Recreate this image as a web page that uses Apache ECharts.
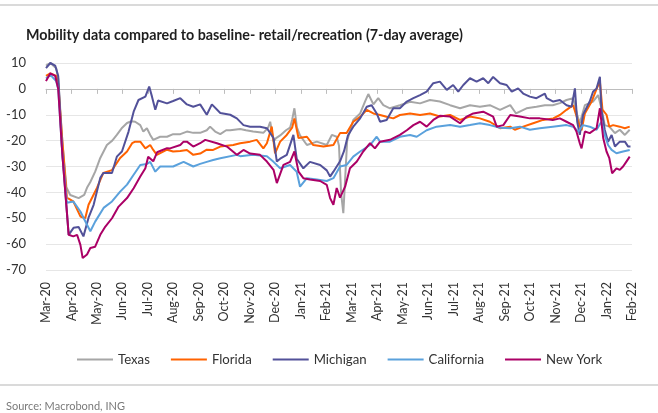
<!DOCTYPE html>
<html>
<head>
<meta charset="utf-8">
<script src="https://cdn.jsdelivr.net/npm/echarts@6/dist/echarts.min.js"></script>
<style>
html,body{margin:0;padding:0;background:#fff;}
#chart{width:658px;height:413px;}
</style>
</head>
<body>
<div id="chart"></div>
<script>
// x = months since 1 Mar 2020 (0 = Mar-20, 23 = Feb-22)
const monthLabels = ['Mar-20','Apr-20','May-20','Jun-20','Jul-20','Aug-20','Sep-20','Oct-20','Nov-20','Dec-20','Jan-21','Feb-21','Mar-21','Apr-21','May-21','Jun-21','Jul-21','Aug-21','Sep-21','Oct-21','Nov-21','Dec-21','Jan-22','Feb-22'];
const seriesNames = ['Texas','Florida','Michigan','California','New York'];
const seriesColors = ['#a6a6a6','#ff6200','#525199','#5aa1dc','#ab0066'];

const texas = [[0,9],[0.17,10],[0.40,8],[0.48,4],[0.64,-20],[0.80,-38],[0.95,-41],[1.28,-42.2],[1.50,-41],[1.62,-38],[1.74,-36],[1.93,-32],[2.13,-26.7],[2.39,-21.7],[2.60,-20],[2.78,-17.8],[2.99,-15],[3.18,-13.2],[3.35,-12.5],[3.50,-12.7],[3.70,-14],[3.82,-16.5],[3.96,-15.2],[4.09,-17.8],[4.21,-19.7],[4.48,-18.5],[4.75,-18.5],[4.99,-17.5],[5.27,-17.5],[5.53,-16.5],[5.78,-17],[6.05,-17],[6.31,-16],[6.44,-14.6],[6.64,-16.5],[6.84,-17.5],[7.07,-16],[7.23,-16],[7.62,-15.5],[7.85,-16],[8.13,-16.5],[8.53,-17],[8.72,-15],[8.80,-12.7],[8.93,-20.4],[9.03,-19],[9.19,-18],[9.42,-16],[9.58,-15],[9.66,-12],[9.75,-7.5],[9.85,-15],[9.97,-18],[10.24,-21.7],[10.63,-20.4],[11.02,-21.7],[11.22,-17.8],[11.41,-18.5],[11.50,-22],[11.58,-40],[11.67,-48],[11.74,-35],[11.82,-20],[12.06,-12],[12.33,-9.5],[12.52,-4.9],[12.65,-2],[12.85,-6],[13.04,-3.6],[13.24,-6.3],[13.50,-7.5],[13.89,-6.3],[14.29,-5],[14.68,-5.6],[15.07,-4.3],[15.46,-4.9],[15.86,-6.3],[16.25,-7.5],[16.64,-6.3],[17.03,-6.9],[17.42,-6.3],[17.82,-8.1],[18.22,-6.3],[18.45,-9.5],[18.86,-7.5],[19.25,-6.9],[19.58,-6.3],[19.89,-6.3],[20.17,-5.5],[20.43,-4.3],[20.69,-3.6],[20.85,-10],[20.95,-13.3],[21.15,-6.3],[21.47,-4.9],[21.67,-2.4],[21.80,-7.5],[21.93,-14],[22.11,-14.6],[22.33,-17.1],[22.52,-15.8],[22.72,-17.8],[22.91,-15.8]];

const florida = [[0,5],[0.17,6],[0.40,5],[0.48,2],[0.64,-20],[0.82,-42],[1.07,-43.5],[1.35,-49.3],[1.54,-50],[1.67,-44.8],[2.00,-38.3],[2.25,-32.5],[2.59,-31.4],[2.91,-26.7],[3.18,-24.2],[3.38,-21],[3.50,-20.4],[3.70,-20.4],[3.90,-23],[4.09,-21.7],[4.21,-23.6],[4.35,-25.5],[4.75,-23.5],[4.99,-24.2],[5.27,-24],[5.53,-23.6],[5.78,-25.5],[6.05,-25],[6.31,-23.5],[6.56,-23.6],[6.84,-22.3],[7.35,-21.7],[7.62,-21],[8.01,-20.4],[8.27,-19.7],[8.53,-23],[8.67,-21],[8.86,-14.6],[8.99,-24.9],[9.19,-20.4],[9.45,-17.8],[9.66,-15],[9.75,-11.4],[9.91,-19],[10.24,-18.5],[10.49,-21.7],[10.89,-22.3],[11.28,-21.7],[11.54,-17.1],[11.80,-17.1],[12.06,-12.7],[12.33,-10.8],[12.59,-8.1],[12.85,-9.5],[13.11,-10.1],[13.37,-10.8],[13.63,-11.4],[13.89,-10.1],[14.29,-9.5],[14.68,-10.1],[15.07,-9.5],[15.46,-10.7],[15.86,-10.1],[16.25,-12],[16.64,-10.7],[17.03,-11.4],[17.42,-12.7],[17.82,-15.2],[18.22,-14.6],[18.40,-15.8],[18.73,-14.6],[19.12,-13.3],[19.51,-12],[19.91,-11.4],[20.17,-10.1],[20.43,-8.1],[20.69,-6.3],[20.89,-12.7],[21.02,-16],[21.15,-9.5],[21.41,-5],[21.61,0],[21.74,2.8],[21.84,-8],[22.00,-10],[22.11,-14.6],[22.26,-14],[22.52,-14.6],[22.72,-15.2],[22.91,-14.6]];

const michigan = [[0,8],[0.17,10],[0.36,9],[0.48,5],[0.64,-25],[0.89,-56.4],[1.08,-53.7],[1.28,-53.4],[1.47,-57],[1.67,-49.8],[1.87,-44.8],[2.13,-34.4],[2.25,-32.5],[2.59,-32.5],[2.78,-26.2],[2.98,-24.2],[3.24,-16.5],[3.44,-8.8],[3.63,-4.3],[3.90,-3],[4.05,0.9],[4.16,-3],[4.29,-8.1],[4.40,-4.5],[4.75,-5.6],[4.99,-4.7],[5.27,-3.6],[5.53,-6],[5.78,-6.9],[6.05,-6],[6.31,-10],[6.51,-6],[6.84,-9.3],[7.23,-10],[7.49,-11.4],[7.75,-14],[8.01,-14.6],[8.40,-14.6],[8.67,-15.2],[8.93,-19],[9.06,-28.1],[9.19,-27],[9.45,-25.5],[9.71,-17.8],[9.84,-27],[10.10,-30.7],[10.36,-28.2],[10.76,-29.4],[11.02,-31.5],[11.15,-33.9],[11.28,-32],[11.41,-30],[11.54,-28],[11.70,-24],[11.85,-18],[12.06,-14.6],[12.33,-11.4],[12.59,-6.9],[12.78,-6.3],[12.98,-9.5],[13.11,-12.7],[13.37,-12],[13.63,-7.5],[13.89,-7.5],[14.16,-4.9],[14.42,-3.6],[14.68,-2.4],[14.94,-1.1],[15.20,2.2],[15.46,2.8],[15.73,-0.4],[15.98,1.5],[16.18,-1.1],[16.38,1.5],[16.64,4.1],[16.90,2.8],[17.16,4.1],[17.36,2.2],[17.55,4.6],[17.82,2.2],[18.08,1.5],[18.28,-1.1],[18.53,0.2],[18.73,-1.8],[18.99,-3],[19.25,-3.6],[19.58,-1.8],[19.65,-3.6],[19.91,-4.9],[20.17,-4.3],[20.43,-6.3],[20.63,-6.9],[20.76,0.2],[20.85,-12.7],[20.95,-17.8],[21.08,-10],[21.34,-4.9],[21.47,-1.1],[21.61,0.2],[21.74,4.7],[21.80,-8.1],[21.93,-15.8],[22.06,-20.4],[22.20,-17.8],[22.33,-22.3],[22.52,-20.4],[22.72,-20.4],[22.85,-22.3],[22.94,-22.3]];

const california = [[0,4],[0.17,5.4],[0.40,3],[0.48,0],[0.64,-25],[0.82,-44],[1.07,-43.5],[1.35,-47.4],[1.61,-52.5],[1.74,-55],[1.93,-51.3],[2.26,-46],[2.59,-43.5],[2.91,-39.7],[3.18,-37],[3.44,-33.2],[3.70,-29.4],[3.96,-29],[4.09,-28.2],[4.29,-32],[4.48,-30],[4.99,-30],[5.40,-28.2],[5.78,-30],[6.05,-29],[6.31,-28.2],[6.56,-27.5],[6.84,-26.8],[7.49,-25.5],[7.62,-26],[8.13,-25.5],[8.67,-26],[8.93,-28.2],[9.19,-30.7],[9.58,-29.4],[9.84,-32],[9.97,-37.8],[10.24,-34.5],[10.63,-35],[11.02,-35.6],[11.28,-34.5],[11.54,-30],[11.80,-29.4],[12.06,-26.2],[12.33,-24.2],[12.72,-21.7],[12.98,-18.5],[13.11,-20.4],[13.50,-20.4],[13.89,-18.5],[14.29,-17.8],[14.55,-18.5],[14.94,-16],[15.33,-14.6],[15.86,-14],[16.25,-14.6],[16.64,-14],[17.03,-13.3],[17.42,-14],[17.82,-15],[18.22,-15.2],[18.60,-14.6],[18.99,-15.8],[19.38,-15.2],[19.89,-14.6],[20.43,-14],[20.69,-14.6],[20.89,-16.5],[21.08,-14],[21.34,-14.6],[21.61,-15.8],[21.80,-12.7],[21.93,-17.8],[22.06,-21.7],[22.20,-23.6],[22.39,-24.9],[22.65,-24.2],[22.91,-23.6]];

const newYork = [[0,3],[0.17,6],[0.36,5],[0.48,0],[0.64,-25],[0.89,-56.4],[1.07,-57],[1.22,-56.4],[1.35,-60.3],[1.44,-65.4],[1.61,-64],[1.74,-61.5],[1.93,-61],[2.13,-56.4],[2.33,-53.2],[2.59,-50],[2.85,-45.5],[3.18,-42.2],[3.44,-38.4],[3.70,-33.9],[3.90,-30.7],[4.01,-26.2],[4.21,-28],[4.36,-24.5],[4.48,-24],[4.75,-22.9],[4.87,-23],[5.27,-21.7],[5.40,-20.4],[5.53,-20.4],[5.78,-22.3],[6.05,-21],[6.25,-19.7],[6.71,-21],[7.10,-22.3],[7.49,-25.5],[7.75,-23.6],[8.01,-25],[8.40,-25.5],[8.67,-28.1],[8.93,-31.3],[9.06,-36.4],[9.32,-29.4],[9.58,-28.2],[9.75,-24.2],[9.91,-32],[10.10,-34.5],[10.36,-35],[10.76,-35.6],[11.02,-37.1],[11.15,-42.2],[11.28,-44.8],[11.41,-38.3],[11.54,-42],[11.74,-37.8],[11.93,-30.7],[12.20,-28.1],[12.45,-24.2],[12.72,-21],[12.91,-23],[13.11,-20.4],[13.50,-19.7],[13.89,-17.8],[14.16,-16],[14.42,-14],[14.68,-12.7],[14.94,-14.6],[15.20,-12],[15.46,-10.4],[15.86,-10.7],[16.25,-13.3],[16.51,-10.7],[16.77,-9.5],[17.16,-8.8],[17.55,-10.7],[17.69,-14.6],[17.95,-14],[18.22,-10.1],[18.60,-10.7],[18.99,-11.4],[19.38,-11.4],[19.89,-12],[20.17,-11.4],[20.43,-12.7],[20.69,-14],[20.82,-16.5],[20.95,-21],[21.02,-23],[21.15,-16.5],[21.34,-17.1],[21.61,-15.2],[21.74,-7.5],[21.87,-19],[22.00,-24.2],[22.11,-26.8],[22.22,-32.6],[22.39,-30.7],[22.52,-31.3],[22.65,-30],[22.78,-28.1],[22.91,-26.2]];

const allData = [texas, florida, michigan, california, newYork];
const FONT = 'Lato';

const chart = echarts.init(document.getElementById('chart'), null, {renderer: 'canvas'});
chart.setOption({
  animation: false,
  backgroundColor: '#ffffff',
  textStyle: {fontFamily: FONT},
  title: {
    text: 'Mobility data compared to baseline- retail/recreation (7-day average)',
    left: 21, top: 23,
    textStyle: {fontFamily: FONT, fontSize: 14.3, fontWeight: 'bold', color: '#1e1e1e'}
  },
  graphic: [
    {type: 'rect', left: 0, top: 4, shape: {width: 658, height: 2}, style: {fill: '#dadada'}},
    {type: 'rect', left: 0, top: 384, shape: {width: 658, height: 2}, style: {fill: '#dadada'}},
    {type: 'text', left: 6, top: 401, style: {text: 'Source: Macrobond, ING', fill: '#7a7a7a', font: '11px ' + FONT}}
  ],
  legend: {
    data: seriesNames,
    top: 348, left: 72,
    icon: 'rect', itemWidth: 36, itemHeight: 2, itemGap: 21,
    textStyle: {fontFamily: FONT, fontSize: 13.2, color: '#333'}
  },
  grid: {left: 46, right: 26, top: 63, bottom: 143, containLabel: false},
  xAxis: [
    {
      type: 'value', min: 0, max: 23, interval: 1,
      axisLine: {onZero: true, lineStyle: {color: '#bdbdbd', width: 1}},
      axisTick: {show: true, length: 5, lineStyle: {color: '#bdbdbd'}},
      axisLabel: {show: false},
      splitLine: {show: false}
    },
    {
      type: 'value', min: 0, max: 23, interval: 1, position: 'bottom',
      axisLine: {show: false, onZero: false},
      axisTick: {show: false},
      splitLine: {show: false},
      axisLabel: {
        rotate: 90, margin: 12, fontFamily: FONT, fontSize: 12.5, color: '#333',
        formatter: v => monthLabels[Math.round(v)] || ''
      }
    }
  ],
  yAxis: {
    type: 'value', min: -70, max: 10, interval: 10,
    axisLine: {show: false}, axisTick: {show: false},
    axisLabel: {margin: 20, fontFamily: FONT, fontSize: 13, color: '#333'},
    splitLine: {lineStyle: {color: '#e6e6e6', width: 1}}
  },
  series: seriesNames.map((n, i) => ({
    name: n, type: 'line', xAxisIndex: 0, data: allData[i],
    showSymbol: false, symbol: 'none',
    lineStyle: {width: 2, color: seriesColors[i]},
    itemStyle: {color: seriesColors[i]}
  }))
});
</script>
</body>
</html>
